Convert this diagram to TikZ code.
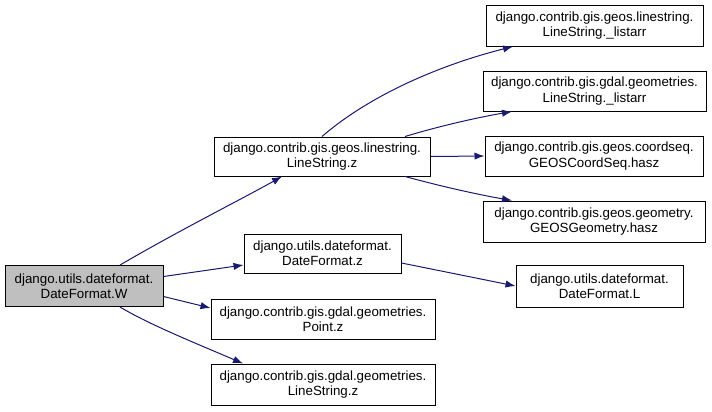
\documentclass[tikz,border=0pt]{standalone}
\usepackage{fontspec}
\setmainfont{Liberation Sans}
\usetikzlibrary{calc,arrows.meta}
\definecolor{edgeblue}{RGB}{25,25,112}
\definecolor{wgray}{RGB}{191,191,191}
\begin{document}
\begin{tikzpicture}[x=0.75pt,y=-0.75pt,
  box/.style={draw=black,line width=0.75pt,fill=white,align=center,inner sep=0pt,
    font=\fontsize{10}{11.5}\selectfont},
  edge/.style={draw=edgeblue,line width=0.75pt,-{Latex[length=7.5pt,width=5.5pt]}}]
\useasboundingbox (0,0) rectangle (712,411);
\node[box,fill=wgray,minimum width=158*0.75pt,minimum height=41*0.75pt] (W) at (84,286) {django.utils.dateformat.\\DateFormat.W};
\node[box,minimum width=216*0.75pt,minimum height=39*0.75pt] (LSz) at (322,156.5) {django.contrib.gis.geos.linestring.\\LineString.z};
\node[box,minimum width=217*0.75pt,minimum height=41*0.75pt] (B1) at (594.5,25.5) {django.contrib.gis.geos.linestring.\\LineString.\_listarr};
\node[box,minimum width=223*0.75pt,minimum height=40*0.75pt] (B2) at (594.5,91) {django.contrib.gis.gdal.geometries.\\LineString.\_listarr};
\node[box,minimum width=218*0.75pt,minimum height=40*0.75pt] (B3) at (594,156) {django.contrib.gis.geos.coordseq.\\GEOSCoordSeq.hasz};
\node[box,minimum width=222*0.75pt,minimum height=41*0.75pt] (B4) at (594,221.5) {django.contrib.gis.geos.geometry.\\GEOSGeometry.hasz};
\node[box,minimum width=157*0.75pt,minimum height=39*0.75pt] (DFz) at (322.5,253.5) {django.utils.dateformat.\\DateFormat.z};
\node[box,minimum width=224*0.75pt,minimum height=40*0.75pt] (Pz) at (323,319) {django.contrib.gis.gdal.geometries.\\Point.z};
\node[box,minimum width=224*0.75pt,minimum height=41*0.75pt] (gLSz) at (323,384.5) {django.contrib.gis.gdal.geometries.\\LineString.z};
\node[box,minimum width=167*0.75pt,minimum height=42*0.75pt] (L) at (599.5,286) {django.utils.dateformat.\\DateFormat.L};

\draw[edge] ($(W.north)+(36,0)$) .. controls (180,230) and (240,200) .. ($(LSz.south)+(-40,0)$);
\draw[edge] ($(W.east)+(0,-9.5)$) -- ($(DFz.west)+(0,11.5)$);
\draw[edge] ($(W.east)+(0,10.5)$) -- ($(Pz.west)+(0,-11)$);
\draw[edge] ($(W.south)+(36,0)$) .. controls (150,325) and (200,345) .. ($(gLSz.north)+(-80,0)$);
\draw[edge] ($(LSz.north)+(0,0)$) .. controls (370,95) and (440,65) .. ($(B1.south)+(-81.5,0)$);
\draw[edge] ($(LSz.north)+(83,0)$) .. controls (440,126) and (475,118) .. ($(B2.south)+(-82.5,0)$);
\draw[edge] (LSz.east) -- (B3.west);
\draw[edge] ($(LSz.south)+(83,0)$) .. controls (440,186) and (475,194) .. ($(B4.north)+(-82,0)$);
\draw[edge] ($(DFz.east)+(0,9.5)$) -- (L.west);
\end{tikzpicture}
\end{document}
